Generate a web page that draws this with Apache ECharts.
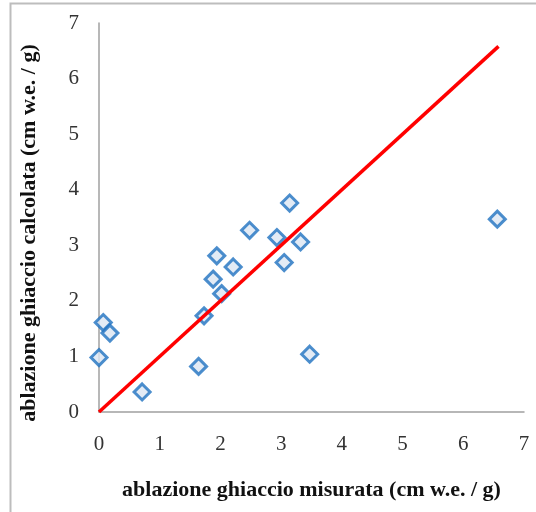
<!DOCTYPE html>
<html>
<head>
<meta charset="utf-8">
<script src="https://cdn.jsdelivr.net/npm/echarts@6/dist/echarts.min.js"></script>
<style>html,body{margin:0;padding:0;background:#fff}#c{width:536px;height:512px}</style>
</head>
<body>
<div id="c"></div>
<script>
// measured ice ablation (cm w.e. / g)
const measured = [0.00, 0.07, 0.18, 0.71, 1.64, 1.73, 1.88, 2.02, 1.94, 2.21, 2.48, 2.93, 3.05, 3.14, 3.32, 3.47, 6.56];
// calculated ice ablation (cm w.e. / g)
const calculated = [0.98, 1.61, 1.42, 0.36, 0.82, 1.73, 2.39, 2.13, 2.81, 2.61, 3.27, 3.14, 2.69, 3.76, 3.06, 1.04, 3.47];
// 1:1 line endpoints
const lineX = [0, 6.58];
const lineY = [0, 6.58];
const axisTicks = [0, 1, 2, 3, 4, 5, 6, 7];
const xTitle = 'ablazione ghiaccio misurata (cm w.e. / g)';
const yTitle = 'ablazione ghiaccio calcolata (cm w.e. / g)';

const chart = echarts.init(document.getElementById('c'), null, {renderer: 'canvas'});
const serif = '"Liberation Serif", "Times New Roman", serif';
chart.setOption({
  animation: false,
  backgroundColor: '#fff',
  graphic: [{
    type: 'rect', shape: {x: 10.5, y: 3.5, width: 540, height: 520},
    style: {fill: 'none', stroke: '#bdbdbd', lineWidth: 2}, silent: true, z: -1
  }],
  grid: {left: 99, right: 12, top: 23, bottom: 100},
  xAxis: {
    type: 'value', min: axisTicks[0], max: axisTicks[axisTicks.length - 1], interval: 1,
    name: xTitle, nameLocation: 'middle', nameGap: 67,
    nameTextStyle: {fontFamily: serif, fontWeight: 'bold', fontSize: 22, color: '#111'},
    axisLine: {show: true, lineStyle: {color: '#a0a0a0', width: 1.5}},
    axisTick: {show: false}, splitLine: {show: false},
    axisLabel: {fontFamily: serif, fontSize: 21, color: '#333', margin: 22}
  },
  yAxis: {
    type: 'value', min: axisTicks[0], max: axisTicks[axisTicks.length - 1], interval: 1,
    name: yTitle, nameLocation: 'middle', nameGap: 59,
    nameTextStyle: {fontFamily: serif, fontWeight: 'bold', fontSize: 22, color: '#111', padding: [0, 31, 0, 0]},
    axisLine: {show: true, lineStyle: {color: '#a0a0a0', width: 1.5}},
    axisTick: {show: false}, splitLine: {show: false},
    axisLabel: {fontFamily: serif, fontSize: 21, color: '#333', margin: 20}
  },
  series: [{
    type: 'line',
    data: lineX.map((x, i) => [x, lineY[i]]),
    symbol: 'none',
    lineStyle: {color: '#ff0000', width: 3.5},
    z: 3
  }, {
    type: 'scatter',
    data: measured.map((x, i) => [x, calculated[i]]),
    symbol: 'diamond',
    symbolSize: 16,
    itemStyle: {color: '#dce6f2', borderColor: '#1f72c0', borderWidth: 3},
    z: 2
  }]
});
</script>
</body>
</html>
